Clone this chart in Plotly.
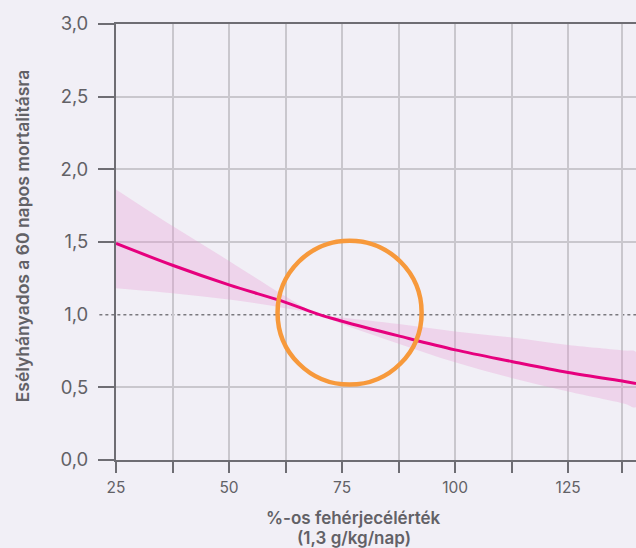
import plotly.graph_objects as go

# Data
protein_pct = [25, 37.5, 50, 62.5, 70, 75, 87.5, 100, 112.5, 125, 137.5, 140]
odds_ratio = [1.49, 1.34, 1.205, 1.085, 1.0, 0.955, 0.854, 0.758, 0.678, 0.602, 0.54, 0.527]
ci_upper = [1.862, 1.61, 1.37, 1.125, 1.0, 0.98, 0.935, 0.885, 0.843, 0.792, 0.753, 0.742]
ci_lower = [1.182, 1.148, 1.105, 1.045, 1.0, 0.935, 0.80, 0.672, 0.564, 0.471, 0.387, 0.364]

x_major_ticks = [25, 50, 75, 100, 125]
x_minor_ticks = [37.5, 62.5, 87.5, 112.5, 137]
y_label_vals = [0, 0.5, 1.0, 1.5, 2.0, 2.5, 3.0]
y_label_text = ["0,0", "0,5", "1,0", "1,5", "2,0", "2,5", "3,0"]
y_grid_vals = [0, 0.5, 1.5, 2.0, 2.5, 3.0]

BG = "#f1eff6"
AXIS = "#6e6d73"
GRID = "#c9c7cd"
TXT = "#626166"
FONT = "Inter"

fig = go.Figure()

# confidence band
fig.add_trace(go.Scatter(
    x=protein_pct + protein_pct[::-1],
    y=ci_upper + ci_lower[::-1],
    fill="toself", fillcolor="rgba(232,150,210,0.30)",
    line=dict(width=0, shape="spline"), mode="lines",
    hoverinfo="skip", showlegend=False))

# odds ratio curve
fig.add_trace(go.Scatter(
    x=protein_pct, y=odds_ratio, mode="lines",
    line=dict(color="#e6007e", width=3, shape="spline"),
    showlegend=False))

# dotted reference line at 1.0
fig.add_shape(type="line", xref="paper", yref="y", x0=-0.032, x1=1, y0=1, y1=1,
              line=dict(color="#7a797e", width=1.5, dash="dot"), layer="between")

# highlight circle
fig.add_shape(type="circle", xref="x", yref="y", x0=60.73, x1=92.59, y0=0.519, y1=1.509,
              line=dict(color="#f7993b", width=4.5), layer="above")

fig.update_layout(
    width=636, height=548,
    margin=dict(l=116, r=0, t=24, b=88),
    paper_bgcolor=BG, plot_bgcolor=BG,
    font=dict(family=FONT, color=TXT),
    showlegend=False,
    xaxis=dict(
        range=[25, 140], tickmode="array", tickvals=x_major_ticks,
        ticks="outside", ticklen=11, tickwidth=1.5, tickcolor=AXIS,
        showgrid=True, gridcolor=GRID, gridwidth=1.5,
        showline=True, linecolor=AXIS, linewidth=2, mirror=True,
        zeroline=False, tickfont=dict(size=15.5, color=TXT, family=FONT),
        ticklabelstandoff=1, automargin=False,
        minor=dict(tickmode="array", tickvals=x_minor_ticks, ticks="outside",
                   ticklen=11, tickwidth=1.5, tickcolor=AXIS,
                   showgrid=True, gridcolor=GRID, gridwidth=1.5),
    ),
    yaxis=dict(
        range=[0, 3], tickmode="array", tickvals=y_label_vals, ticktext=y_label_text,
        ticks="", showgrid=False,
        showline=True, linecolor=AXIS, linewidth=2, mirror=False,
        zeroline=False, tickfont=dict(size=18.5, color=TXT, family=FONT),
        ticklabelstandoff=22, automargin=False,
        minor=dict(tickmode="array", tickvals=y_grid_vals, ticks="outside",
                   ticklen=16, tickwidth=1.5, tickcolor=AXIS,
                   showgrid=True, gridcolor=GRID, gridwidth=1.5),
    ),
)

title_font = dict(size=17, color=TXT, family=FONT, weight=600)
fig.add_annotation(
    text="%-os fehérjecélérték",
    xref="paper", yref="paper", x=0.4576, y=-0.1330,
    xanchor="center", yanchor="middle", showarrow=False, font=title_font)
fig.add_annotation(
    text="(1,3 g/kg/nap)",
    xref="paper", yref="paper", x=0.4576, y=-0.1800,
    xanchor="center", yanchor="middle", showarrow=False, font=title_font)

fig.add_annotation(
    text="Esélyhányados a 60 napos mortalitásra",
    xref="paper", yref="paper", x=-0.180, y=0.514,
    xanchor="center", yanchor="middle", textangle=-90, showarrow=False,
    font=dict(size=17.5, color=TXT, family=FONT, weight=600))

fig.write_html(
    "out.html",
    config={"displayModeBar": False},
    post_script="document.body.style.margin='0';document.body.style.background='#f1eff6';document.body.style.overflow='hidden';",
)
